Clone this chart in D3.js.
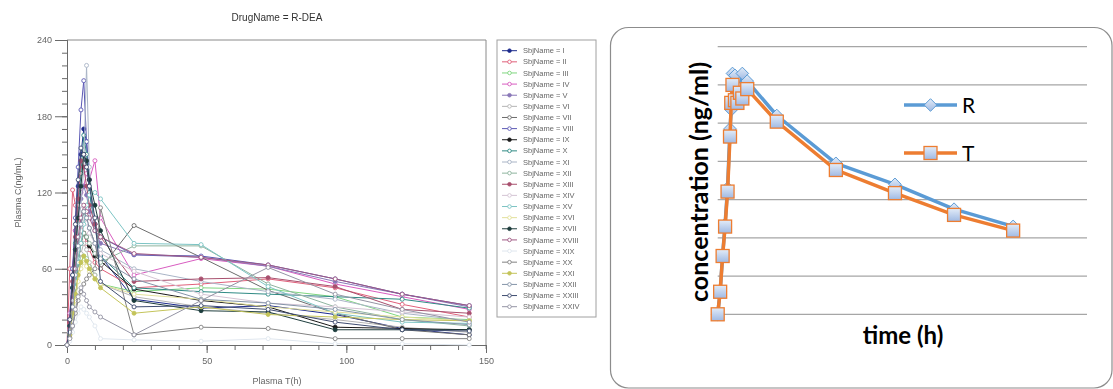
<!DOCTYPE html>
<html><head><meta charset="utf-8">
<script src="https://cdn.jsdelivr.net/npm/d3@7"></script>
<style>body{margin:0;background:#fff} svg{display:block}</style>
</head><body>
<svg id="chart" width="1113" height="389"></svg>
<script>
// ---- Individual profiles (left panel) ----
const sampleTimes = [0, 1, 2, 3, 4, 5, 6, 7, 8, 10, 12, 24, 48, 72, 96, 120, 144];
const subjectNames = ["I","II","III","IV","V","VI","VII","VIII","IX","X","XI","XII",
  "XIII","XIV","XV","XVI","XVII","XVIII","XIX","XX","XXI","XXII","XXIII","XXIV"];
const subjectConc = [
  [0, 20, 55, 90, 125, 150, 170, 160, 130, 95, 70, 36, 29, 31, 24, 13, 8],
  [0, 60, 122, 110, 100, 95, 88, 80, 75, 65, 60, 45, 48, 52, 45, 32, 22],
  [0, 10, 30, 45, 60, 65, 70, 68, 62, 55, 48, 42, 45, 44, 38, 22, 20],
  [0, 25, 60, 90, 110, 120, 125, 135, 130, 145, 100, 55, 68, 62, 48, 38, 28],
  [0, 15, 45, 75, 100, 115, 125, 118, 105, 90, 80, 71, 69, 62, 50, 40, 30],
  [0, 5, 20, 40, 60, 72, 80, 75, 65, 55, 48, 38, 30, 25, 20, 14, 10],
  [0, 10, 35, 60, 80, 95, 105, 100, 92, 80, 60, 94, 69, 43, 25, 12, 8],
  [0, 20, 60, 100, 140, 185, 208, 160, 120, 95, 85, 71, 70, 63, 52, 40, 31],
  [0, 8, 25, 45, 65, 80, 88, 85, 78, 70, 66, 44, 35, 30, 14, 13, 12],
  [0, 15, 45, 80, 110, 135, 165, 150, 120, 95, 70, 45, 42, 40, 38, 36, 29],
  [0, 12, 40, 70, 95, 110, 140, 220, 140, 90, 75, 60, 50, 42, 36, 25, 19],
  [0, 10, 30, 50, 68, 80, 88, 85, 80, 72, 65, 78, 78, 48, 30, 20, 15],
  [0, 18, 50, 85, 115, 145, 140, 125, 110, 95, 85, 50, 52, 53, 46, 28, 25],
  [0, 10, 30, 55, 75, 90, 100, 96, 88, 80, 72, 58, 40, 33, 30, 26, 22],
  [0, 8, 25, 45, 65, 80, 95, 110, 118, 120, 115, 80, 79, 46, 25, 18, 17],
  [0, 5, 18, 35, 50, 60, 65, 62, 58, 52, 48, 40, 36, 30, 26, 22, 19],
  [0, 15, 45, 75, 100, 125, 150, 145, 130, 110, 90, 35, 27, 26, 12, 12, 12],
  [0, 12, 35, 60, 85, 100, 110, 105, 100, 90, 85, 72, 69, 63, 52, 40, 31],
  [0, 3, 10, 18, 25, 30, 28, 25, 22, 15, 5, 4, 3, 5, 1, 1, 0],
  [0, 6, 15, 25, 35, 42, 48, 52, 55, 60, 108, 8, 14, 13, 5, 5, 5],
  [0, 8, 25, 40, 55, 65, 70, 66, 60, 52, 45, 25, 30, 24, 22, 20, 19],
  [0, 10, 30, 55, 78, 95, 105, 100, 92, 80, 68, 52, 36, 33, 28, 20, 16],
  [0, 20, 55, 95, 130, 155, 150, 140, 125, 100, 50, 30, 31, 28, 18, 12, 11],
  [0, 5, 15, 28, 38, 45, 40, 35, 30, 26, 22, 8, 35, 61, 40, 28, 18]
];
const leftTitle = "DrugName = R-DEA";
const leftYTicks = [0, 60, 120, 180, 240];
const leftXTicks = [0, 50, 100, 150];

// ---- Mean profiles (right panel) ----
const meanTimes = [0, 1, 2, 3, 4, 5, 5.5, 6, 7, 8, 9, 10, 12, 24, 48, 72, 96, 120];
const meanR = [0, 12, 31, 47, 66, 97, 107, 126, 125, 111, 118, 126, 122, 104, 79, 68, 55, 46];
const meanT = [0, 11.8, 30.5, 45.9, 64.2, 93, 110.6, 120, 112, 110.6, 115.9, 112.9, 117.8, 100.8, 75.5, 63.4, 52, 43.8];
const gridValues = [0, 20, 40, 60, 80, 100, 120, 140];

const subjectColors = ["#1c2a8c","#e0607a","#7fd67f","#d85cc0","#8a78b8","#b4b4b4",
  "#6c6c6c","#5a58b4","#1a1a1a","#2f8a84","#a9b4c6","#8fb49f","#a8506e","#d4c4d4",
  "#7cc4c4","#e2e09a","#1f3d3d","#a05a84","#dfe6ee","#828282","#c4c45a","#8494a8",
  "#3e4c70","#9494a4"];

const svg = d3.select("#chart");
const defs = svg.append("defs");
defs.append("filter").attr("id", "soft")
  .append("feGaussianBlur").attr("stdDeviation", 0.45);

// ================= Left panel =================
const L = svg.append("g").attr("filter", "url(#soft)");
const xL = d3.scaleLinear().domain([0, 150]).range([67, 486]);
const yL = d3.scaleLinear().domain([0, 240]).range([345, 40]);
const axisCol = "#6a6a6a";
const labelFont = "'Liberation Sans', Arial, sans-serif";

L.append("text").attr("x", 277).attr("y", 21).attr("text-anchor", "middle")
  .style("font", `10px ${labelFont}`).attr("fill", "#333").text(leftTitle);

// frame (top and right)
L.append("path").attr("d", `M${xL(0)},${yL(240)}H${xL(150)}V${yL(0) + 4}`)
  .attr("fill", "none").attr("stroke", "#8a8a8a").attr("stroke-width", 1);

// minor ticks
const yMinor = L.append("g").attr("transform", `translate(${xL(0)},0)`)
  .call(d3.axisLeft(yL).tickValues(d3.range(0, 241, 10)).tickSize(5).tickFormat(""));
const xMinor = L.append("g").attr("transform", `translate(0,${yL(0)})`)
  .call(d3.axisBottom(xL).tickValues(d3.range(0, 151, 10)).tickSize(5).tickFormat(""));
// major ticks with labels
const yMajor = L.append("g").attr("transform", `translate(${xL(0)},0)`)
  .call(d3.axisLeft(yL).tickValues(leftYTicks).tickSize(12).tickPadding(3));
const xMajor = L.append("g").attr("transform", `translate(0,${yL(0)})`)
  .call(d3.axisBottom(xL).tickValues(leftXTicks).tickSize(8).tickPadding(5));
[yMinor, xMinor, yMajor, xMajor].forEach(g => {
  g.selectAll("path,line").attr("stroke", axisCol);
  g.selectAll("text").attr("fill", "#666").style("font", `9px ${labelFont}`);
});

L.append("text").attr("x", 277).attr("y", 384).attr("text-anchor", "middle")
  .style("font", `9px ${labelFont}`).attr("fill", "#666").text("Plasma T(h)");
L.append("text").attr("transform", `translate(21,${(yL(0) + yL(240)) / 2}) rotate(-90)`)
  .attr("text-anchor", "middle").style("font", `9px ${labelFont}`).attr("fill", "#666")
  .text("Plasma C(ng/mL)");

const lineL = d3.line().x((d, i) => xL(sampleTimes[i])).y(d => yL(d));
const subjG = L.append("g");
subjectConc.forEach((vals, k) => {
  const col = subjectColors[k];
  const g = subjG.append("g");
  g.append("path").attr("d", lineL(vals)).attr("fill", "none")
    .attr("stroke", col).attr("stroke-width", 1);
  g.selectAll("circle").data(vals).join("circle")
    .attr("cx", (d, i) => xL(sampleTimes[i])).attr("cy", d => yL(d))
    .attr("r", 2).attr("stroke", col).attr("stroke-width", 0.9)
    .attr("fill", k % 4 === 0 ? col : "#fff");
});

// legend
const lg = L.append("g");
lg.append("rect").attr("x", 497).attr("y", 40).attr("width", 99).attr("height", 277)
  .attr("fill", "#fff").attr("stroke", "#a0a0a0");
subjectNames.forEach((nm, k) => {
  const yy = 50.7 + k * 11.13;
  const col = subjectColors[k];
  lg.append("line").attr("x1", 502).attr("x2", 517).attr("y1", yy).attr("y2", yy)
    .attr("stroke", col).attr("stroke-width", 1);
  lg.append("circle").attr("cx", 509.5).attr("cy", yy).attr("r", 1.8)
    .attr("stroke", col).attr("stroke-width", 0.9).attr("fill", k % 4 === 0 ? col : "#fff");
  lg.append("text").attr("x", 523).attr("y", yy).attr("dy", "0.35em")
    .style("font", `7.5px ${labelFont}`).attr("fill", "#666").text(`SbjName = ${nm}`);
});

// ================= Right panel =================
const R = svg.append("g");
R.append("rect").attr("x", 610.5).attr("y", 27.5).attr("width", 501.5).attr("height", 360.5)
  .attr("rx", 18).attr("fill", "#fff").attr("stroke", "#8c8c8c").attr("stroke-width", 1.2);

const xR = d3.scaleLinear().domain([0, 150]).range([717.7, 1087]);
const yR = d3.scaleLinear().domain([0, 140]).range([314.3, 46.7]);

R.append("g").selectAll("line").data(gridValues).join("line")
  .attr("x1", xR(0)).attr("x2", xR(150)).attr("y1", d => yR(d)).attr("y2", d => yR(d))
  .attr("stroke", "#a6a6a6").attr("stroke-width", 1.3);

const grad = defs.append("linearGradient").attr("id", "mk").attr("x1", 0).attr("y1", 0)
  .attr("x2", 0).attr("y2", 1);
grad.append("stop").attr("offset", "0%").attr("stop-color", "#e3ecf8");
grad.append("stop").attr("offset", "100%").attr("stop-color", "#9fb9e3");

const blue = "#5b9bd5", orange = "#ed7d31";
const lineR = d3.line().x((d, i) => xR(meanTimes[i])).y(d => yR(d));
const diamond = s => `M0,${-s}L${s},0L0,${s}L${-s},0Z`;

function drawR(g, pts) {
  g.selectAll(null).data(pts).join("path")
    .attr("transform", d => `translate(${d[0]},${d[1]})`)
    .attr("d", diamond(6.3)).attr("fill", "url(#mk)").attr("stroke", blue).attr("stroke-width", 1);
}
function drawT(g, pts) {
  g.selectAll(null).data(pts).join("rect")
    .attr("x", d => d[0] - 6.5).attr("y", d => d[1] - 6.5).attr("width", 13).attr("height", 13)
    .attr("fill", "url(#mk)").attr("stroke", orange).attr("stroke-width", 1.3);
}

const sR = R.append("g");
sR.append("path").attr("d", lineR(meanR)).attr("fill", "none").attr("stroke", blue)
  .attr("stroke-width", 3.5).attr("stroke-linejoin", "round");
drawR(sR, meanR.map((v, i) => [xR(meanTimes[i]), yR(v)]));

const sT = R.append("g");
sT.append("path").attr("d", lineR(meanT)).attr("fill", "none").attr("stroke", orange)
  .attr("stroke-width", 3.5).attr("stroke-linejoin", "round");
drawT(sT, meanT.map((v, i) => [xR(meanTimes[i]), yR(v)]));

// legend
const bold = "'Lato', 'Open Sans', sans-serif";
const lgR = R.append("g");
lgR.append("line").attr("x1", 904).attr("x2", 957).attr("y1", 105).attr("y2", 105)
  .attr("stroke", blue).attr("stroke-width", 3.5);
drawR(lgR.append("g"), [[930.5, 105]]);
lgR.append("text").attr("x", 962).attr("y", 112.5).style("font", `21px ${bold}`)
  .attr("fill", "#000").text("R");
lgR.append("line").attr("x1", 904).attr("x2", 957).attr("y1", 153).attr("y2", 153)
  .attr("stroke", orange).attr("stroke-width", 3.5);
drawT(lgR.append("g"), [[930.5, 153]]);
lgR.append("text").attr("x", 962).attr("y", 160.5).style("font", `21px ${bold}`)
  .attr("fill", "#000").text("T");

// axis titles
R.append("text").attr("transform", "translate(708,182) rotate(-90)")
  .attr("text-anchor", "middle").style("font", `bold 25px ${bold}`).attr("fill", "#000")
  .text("concentration (ng/ml)");
R.append("text").attr("x", 903).attr("y", 343.5).attr("text-anchor", "middle")
  .style("font", `bold 24px ${bold}`).attr("fill", "#000").text("time (h)");
</script>
</body></html>
